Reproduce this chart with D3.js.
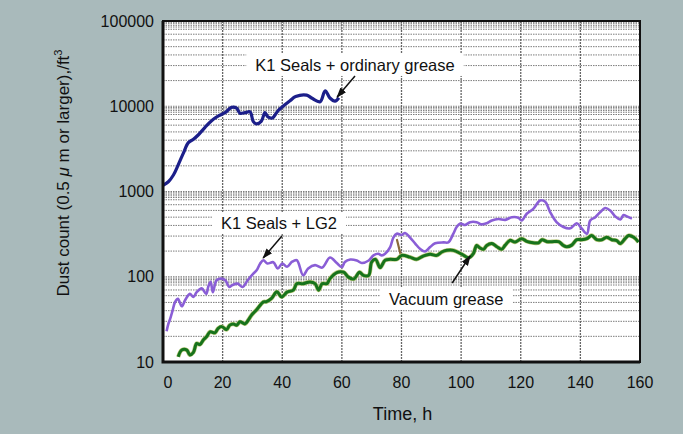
<!DOCTYPE html>
<html>
<head>
<meta charset="utf-8">
<script src="https://cdn.jsdelivr.net/npm/d3@7"></script>
<style>
  body { margin: 0; background: #a9babb; }
  svg { display: block; }
  text { font-family: "Liberation Sans", Arial, sans-serif; fill: #111; }
</style>
</head>
<body>
<div id="chart"></div>
<script>
// chart values
var xTicks = [0, 20, 40, 60, 80, 100, 120, 140, 160];
var yTicks = [10, 100, 1000, 10000, 100000];

// K1 Seals + ordinary grease
var blueT = [0, 1.8, 3.5, 5.1, 6.8, 8.5, 10.2, 11.8, 14.1, 16.3, 18.6, 20.8, 23, 24.7, 25.8, 27.5, 29.2, 30.3, 31.4, 33, 34.2, 35.2, 36.7, 38.5, 39.8, 42.6, 44.5, 48.2, 50, 52.7, 54.4, 56, 57.7, 59];
var blueV = [1180, 1300, 1560, 2050, 2800, 3740, 4100, 4600, 5660, 6770, 7690, 8400, 9700, 9500, 8270, 8400, 8600, 6600, 6200, 6700, 8400, 7500, 7300, 8800, 9700, 11600, 13000, 13500, 12400, 11300, 15200, 12500, 11500, 12600];

// K1 Seals + LG2
var purpleT = [1.2, 1.8, 2.4, 3.2, 4, 5, 6.3, 7.4, 9, 10.2, 11.3, 13, 14.5, 15.2, 16, 16.7, 18, 19.7, 21, 22.2, 23.3, 25, 26.7, 28.4, 30.3, 31.4, 32.6, 33.7, 35, 37, 38.5, 40, 41.6, 43.3, 44.9, 47, 48.7, 51, 53.4, 56, 58.3, 60, 61, 62.8, 65, 66.7, 69, 70.6, 72.2, 73.4, 74.5, 76.2, 77.3, 78.4, 80, 81.2, 82.8, 84.6, 86.2, 87.9, 89.6, 91.3, 94.1, 95.7, 97.4, 98.5, 99.7, 101.3, 103, 105.2, 106.9, 108.6, 110.3, 112.5, 114.8, 117, 119.2, 120.3, 122, 124.2, 126.5, 128.2, 129.9, 132, 134.3, 136.6, 138.8, 140.4, 142.2, 143.3, 145, 146.6, 148.3, 150, 151.7, 153.4, 154.5, 155.6, 157.3];
var purpleV = [23, 28, 32, 40, 50, 55, 45, 53, 63, 58, 66, 73, 63, 77, 87, 66, 91, 95, 90, 76, 80, 83, 76, 91, 109, 119, 143, 156, 143, 148, 125, 143, 131, 150, 156, 104, 125, 137, 128, 168, 145, 130, 149, 159, 155, 145, 155, 178, 186, 178, 186, 223, 290, 320, 310, 326, 290, 245, 213, 198, 223, 247, 253, 253, 320, 383, 420, 405, 437, 437, 412, 425, 457, 475, 465, 500, 493, 457, 548, 625, 785, 760, 570, 437, 383, 370, 425, 370, 320, 457, 500, 570, 640, 600, 510, 470, 530, 510, 480];

// Vacuum grease
var greenT = [5.1, 6.3, 8, 9, 10.2, 11.3, 12.4, 13.5, 14.6, 15.8, 17.4, 18.5, 19.7, 21.3, 22.4, 23.5, 24.7, 25.8, 27.5, 28.6, 29.7, 31.4, 33.7, 34.7, 36.4, 38.2, 39.8, 41.6, 43.7, 44.9, 47, 49.3, 51, 52.2, 53.4, 55, 56, 58.3, 60.6, 62.2, 64, 65.9, 67.2, 69, 70, 71.3, 72.8, 74.5, 76.2, 78.4, 80.1, 82.8, 85, 87.3, 89.6, 91.8, 93.5, 95.2, 97.4, 100.2, 102.5, 104.1, 105.2, 106.3, 107.5, 108.6, 110.3, 112, 113.6, 114.8, 116.4, 118.1, 120.3, 122, 124.2, 126, 127.1, 128.8, 130.5, 132.7, 134.3, 135.4, 137.1, 138.8, 140.4, 142.2, 143.8, 145.5, 147.2, 148.8, 150.5, 152.2, 153.4, 155, 156.2, 157.9, 159.5];
var greenV = [11.5, 13.8, 13.8, 12.1, 13, 16.5, 16, 18.1, 19.8, 22.6, 22, 24.8, 26, 24, 27.1, 28, 27, 29.6, 28, 31, 35.5, 41, 50.7, 51, 55.6, 66.5, 58, 66, 69.6, 83, 83, 87, 83, 69.6, 83, 83, 95, 112, 113, 99, 94, 113, 104, 104, 149, 160, 128, 156, 160, 160, 178, 170, 160, 175, 184, 178, 195, 204, 204, 184, 167, 187, 233, 218, 210, 233, 245, 225, 210, 235, 267, 255, 280, 260, 250, 250, 272, 258, 258, 258, 233, 225, 235, 272, 272, 280, 305, 272, 272, 290, 272, 265, 245, 280, 305, 290, 255];

var W = 683, H = 434;
var plot = {left: 163, right: 640, top: 21, bottom: 362};

var svg = d3.select("#chart").append("svg")
    .attr("width", W)
    .attr("height", H);

var x = d3.scaleLinear().domain([0, 160]).range([plot.left, plot.right]);
var y = d3.scaleLog().domain([10, 100000]).range([plot.bottom, plot.top]);

// plot paper
svg.append("rect")
    .attr("x", plot.left).attr("y", plot.top)
    .attr("width", plot.right - plot.left).attr("height", plot.bottom - plot.top)
    .attr("fill", "#fff");

// log graph paper lines (dense band just under each decade)
var minorSteps = [2, 3, 4, 5, 6, 7, 8, 8.5, 8.9, 9.3, 9.65];
var hLines = [];
yTicks.forEach(function(d) {
  hLines.push(d);
  if (d < 100000) minorSteps.forEach(function(m) { hLines.push(d * m); });
});

svg.append("g")
  .selectAll("line")
  .data(hLines)
  .enter()
  .append("line")
    .attr("x1", plot.left).attr("x2", plot.right)
    .attr("y1", function(d) { return y(d); })
    .attr("y2", function(d) { return y(d); })
    .attr("stroke", "#7d7d7d")
    .attr("stroke-width", 1)
    .attr("stroke-dasharray", "1.5,1");

svg.append("g")
  .selectAll("line")
  .data(xTicks.slice(1, -1))
  .enter()
  .append("line")
    .attr("x1", function(d) { return x(d); })
    .attr("x2", function(d) { return x(d); })
    .attr("y1", plot.top).attr("y2", plot.bottom)
    .attr("stroke", "#666")
    .attr("stroke-width", 1.3)
    .attr("stroke-dasharray", "2,1");

// labels with white boxes that break the grid
var labels = [
  {text: "K1 Seals + ordinary grease", t: 64.4, v: 30500},
  {text: "K1 Seals + LG2", t: 38.9, v: 427},
  {text: "Vacuum grease", t: 95, v: 54.8}
];
var labelG = svg.append("g");
labels.forEach(function(d) {
  var g = labelG.append("g");
  var txt = g.append("text")
      .attr("x", x(d.t)).attr("y", y(d.v))
      .attr("text-anchor", "middle")
      .attr("dominant-baseline", "central")
      .style("font-size", "16.5px")
      .text(d.text);
  var bb = txt.node().getBBox();
  g.insert("rect", "text")
      .attr("x", bb.x - 9).attr("y", bb.y - 2)
      .attr("width", bb.width + 18).attr("height", bb.height + 4)
      .attr("fill", "#fff");
});

// small brown pen stroke seen on the scan
svg.append("line")
    .attr("x1", x(78.5)).attr("y1", y(270))
    .attr("x2", x(79.9)).attr("y2", y(171))
    .attr("stroke", "#8a6a3a")
    .attr("stroke-width", 2.2)
    .attr("stroke-linecap", "round");

// curves
var line = d3.line()
    .x(function(d) { return x(d[0]); })
    .y(function(d) { return y(d[1]); })
    .curve(d3.curveCatmullRom.alpha(0.5));

function pairs(ts, vs) { return ts.map(function(t, i) { return [t, vs[i]]; }); }

svg.append("path")
    .attr("d", line(pairs(greenT, greenV)))
    .attr("fill", "none")
    .attr("stroke", "#b9c77a")
    .attr("stroke-width", 4.2)
    .attr("stroke-linejoin", "round");
svg.append("path")
    .attr("d", line(pairs(greenT, greenV)))
    .attr("fill", "none")
    .attr("stroke", "#17731c")
    .attr("stroke-width", 3)
    .attr("stroke-linejoin", "round");

svg.append("path")
    .attr("d", line(pairs(purpleT, purpleV)))
    .attr("fill", "none")
    .attr("stroke", "#8a5ed6")
    .attr("stroke-width", 2.6)
    .attr("stroke-linejoin", "round");

svg.append("path")
    .attr("d", line(pairs(blueT, blueV)))
    .attr("fill", "none")
    .attr("stroke", "#1c1f8a")
    .attr("stroke-width", 3.2)
    .attr("stroke-linejoin", "round");

// arrows
svg.append("defs").append("marker")
    .attr("id", "head")
    .attr("viewBox", "0 0 10 10")
    .attr("refX", 9).attr("refY", 5)
    .attr("markerWidth", 7).attr("markerHeight", 7)
    .attr("orient", "auto")
  .append("path")
    .attr("d", "M0,1.5 L10,5 L0,8.5 z")
    .attr("fill", "#111");

var arrows = [
  {t0: 64.4, v0: 22600, t1: 58.4, v1: 12800},
  {t0: 39.9, v0: 301, t1: 33.6, v1: 166},
  {t0: 97, v0: 84.5, t1: 103, v1: 175}
];
svg.append("g")
  .selectAll("line")
  .data(arrows)
  .enter()
  .append("line")
    .attr("x1", function(d) { return x(d.t0); })
    .attr("y1", function(d) { return y(d.v0); })
    .attr("x2", function(d) { return x(d.t1); })
    .attr("y2", function(d) { return y(d.v1); })
    .attr("stroke", "#111")
    .attr("stroke-width", 1.5)
    .attr("marker-end", "url(#head)");

// frame
svg.append("rect")
    .attr("x", plot.left).attr("y", plot.top)
    .attr("width", plot.right - plot.left).attr("height", plot.bottom - plot.top)
    .attr("fill", "none")
    .attr("stroke", "#111")
    .attr("stroke-width", 2);
svg.append("path")
    .attr("d", "M" + plot.left + "," + plot.top + "V" + plot.bottom + "H" + plot.right)
    .attr("fill", "none")
    .attr("stroke", "#111")
    .attr("stroke-width", 3);

// tick labels
svg.append("g")
  .selectAll("text")
  .data(yTicks)
  .enter()
  .append("text")
    .attr("x", plot.left - 9)
    .attr("y", function(d) { return y(d); })
    .attr("text-anchor", "end")
    .attr("dominant-baseline", "central")
    .style("font-size", "16px")
    .text(function(d) { return d; });

svg.append("g")
  .selectAll("text")
  .data(xTicks)
  .enter()
  .append("text")
    .attr("x", function(d) { return x(d) + (d === 0 ? 5 : 0); })
    .attr("y", plot.bottom + 20)
    .attr("text-anchor", "middle")
    .attr("dominant-baseline", "central")
    .style("font-size", "16px")
    .text(function(d) { return d; });

// axis titles
svg.append("text")
    .attr("x", (plot.left + plot.right) / 2 + 1)
    .attr("y", 414)
    .attr("text-anchor", "middle")
    .attr("dominant-baseline", "central")
    .style("font-size", "18px")
    .text("Time, h");

var yt = svg.append("text")
    .attr("transform", "translate(69," + 173 + ") rotate(-90)")
    .attr("text-anchor", "middle")
    .style("font-size", "17px");
yt.append("tspan").text("Dust count (0.5 ");
yt.append("tspan").style("font-style", "italic").text("\u03bc");
yt.append("tspan").text(" m or larger),/ft");
yt.append("tspan").attr("dy", -7).style("font-size", "11px").text("3");
</script>
</body>
</html>
